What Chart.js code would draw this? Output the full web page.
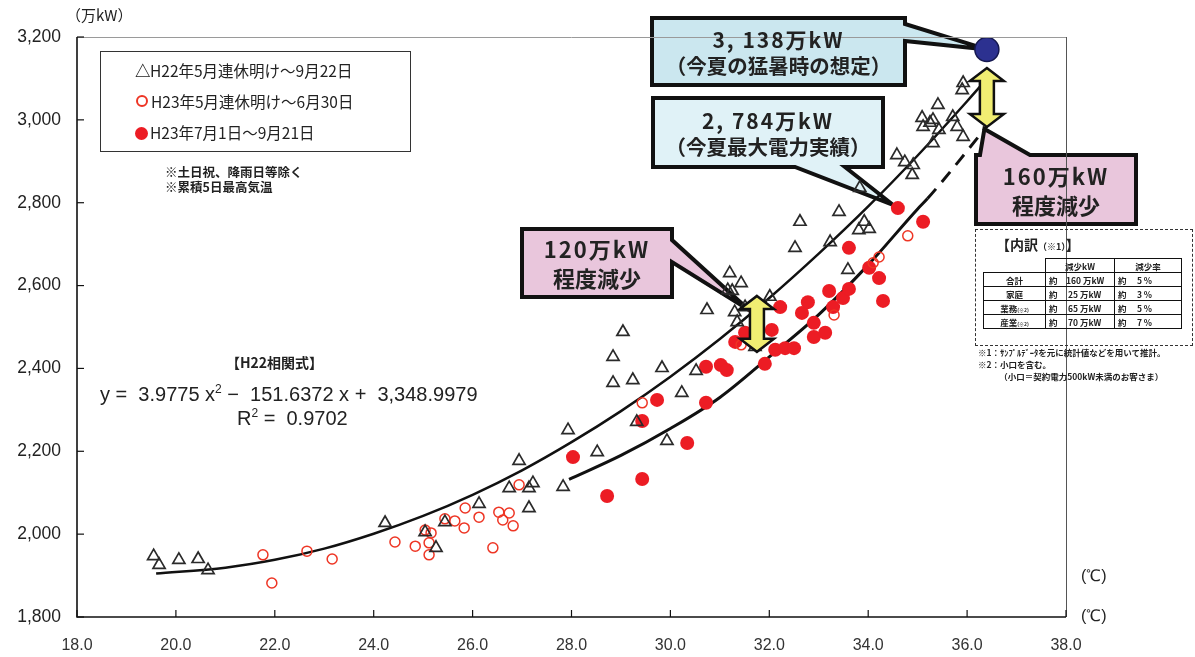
<!DOCTYPE html>
<html lang="ja">
<head>
<meta charset="utf-8">
<script src="https://cdn.jsdelivr.net/npm/chart.js@4.4.0/dist/chart.umd.min.js"></script>
<style>
  body { margin: 0; background: #fff; }
  #wrap { position: relative; width: 1195px; height: 657px; overflow: hidden; font-family: "Noto Sans CJK JP", sans-serif; color: #222; }
  #grafico { position: absolute; left: 0; top: 0; }
  .txt { position: absolute; white-space: nowrap; }
  .callout { position: absolute; display: flex; flex-direction: column; justify-content: center; align-items: center;
             font-weight: bold; color: #222; line-height: 26px; font-size: 20.5px; }
  .callout .n { letter-spacing: 2px; font-size: 21px; }
  .big { font-size: 22px; line-height: 29px; }
  #leyenda { position: absolute; left: 100px; top: 51px; width: 311px; height: 101px; box-sizing: border-box;
             border: 1.5px solid #333; font-size: 15.5px; }
  #leyenda div { position: absolute; left: 34px; white-space: nowrap; }
  .mk { display: inline-block; width: 15px; text-align: center; font-weight: bold; }
  .oc { display: inline-block; width: 8px; height: 8px; border: 2px solid #ee3524; border-radius: 50%; margin: 0 3px 1px 1px; }
  .fc { display: inline-block; width: 13px; height: 13px; background: #ec1c24; border-radius: 50%; margin: 0 2px -1px 0; }
  #uchiwake { position: absolute; left: 975px; top: 229px; width: 218px; height: 117px; box-sizing: border-box;
              border: 1.5px dashed #333; }
  #uchiwake table { position: absolute; left: 7px; top: 28px; border-collapse: collapse; font-size: 8.5px; font-weight: bold; }
  #uchiwake td { border: 1.3px solid #111; height: 13px; padding: 0 3px; }
  .eq { font-family: "Liberation Sans", Arial, sans-serif; font-size: 20px; }
</style>
</head>
<body>
<div id="wrap">
  <canvas id="grafico" width="1195" height="657"></canvas>

  <div class="txt" style="left:66px;top:4px;font-size:15px;">（万kW）</div>
  <div class="txt" style="left:1081px;top:566px;font-size:16px;font-family:'Liberation Sans',sans-serif;">(℃)</div>
  <div class="txt" style="left:1081px;top:606px;font-size:16px;font-family:'Liberation Sans',sans-serif;">(℃)</div>

  <div id="leyenda">
    <div style="top:7px;"><span class="mk" style="color:#222;">△</span>H22年5月連休明け～9月22日</div>
    <div style="top:38px;"><span class="oc"></span>H23年5月連休明け～6月30日</div>
    <div style="top:69px;"><span class="fc"></span>H23年7月1日～9月21日</div>
  </div>
  <div class="txt" style="left:165px;top:164px;font-size:12.5px;font-weight:bold;line-height:15px;">※土日祝、降雨日等除く<br>※累積5日最高気温</div>

  <div class="txt" style="left:226px;top:352px;font-size:14px;font-weight:bold;">【H22相関式】</div>
  <div class="txt eq" style="left:100px;top:382px;">y =&nbsp;&nbsp;3.9775 x<sup style="font-size:12px;">2</sup> −&nbsp;&nbsp;151.6372 x +&nbsp;&nbsp;3,348.9979</div>
  <div class="txt eq" style="left:237px;top:406px;">R<sup style="font-size:12px;">2</sup> =&nbsp;&nbsp;0.9702</div>

  <div class="callout" style="left:652px;top:18px;width:253px;height:67px;"><div class="n">3, 138万kW</div><div>（今夏の猛暑時の想定）</div></div>
  <div class="callout" style="left:653px;top:98px;width:230px;height:69px;"><div class="n">2, 784万kW</div><div>（今夏最大電力実績）</div></div>
  <div class="callout big" style="left:522px;top:229px;width:150px;height:68px;"><div class="n" style="font-size:22px;">120万kW</div><div>程度減少</div></div>
  <div class="callout big" style="left:976px;top:155px;width:160px;height:69px;"><div class="n" style="font-size:22px;">160万kW</div><div>程度減少</div></div>

  <div id="uchiwake">
    <div class="txt" style="left:20px;top:4px;font-size:14px;font-weight:bold;">【内訳<span style="font-size:9px;">（※1）</span>】</div>
    <table>
      <tr><td style="border:none;"></td><td style="width:62px;text-align:center;">減少kW</td><td style="width:60px;text-align:center;">減少率</td></tr>
      <tr><td style="width:55px;text-align:center;">合計</td><td>約　160 万kW</td><td>約　 5 %</td></tr>
      <tr><td style="text-align:center;">家庭</td><td>約　 25 万kW</td><td>約　 3 %</td></tr>
      <tr><td style="text-align:center;">業務<span style="font-size:5px;">(※2)</span></td><td>約　 65 万kW</td><td>約　 5 %</td></tr>
      <tr><td style="text-align:center;">産業<span style="font-size:5px;">(※2)</span></td><td>約　 70 万kW</td><td>約　 7 %</td></tr>
    </table>
  </div>
  <div class="txt" style="left:978px;top:346px;font-size:8.5px;font-weight:bold;line-height:12px;">※1：ｻﾝﾌﾟﾙﾃﾞｰﾀを元に統計値などを用いて推計。<br>※2：小口を含む。<br>　　　（小口＝契約電力500kW未満のお客さま）</div>
</div>

<script>
// -----------------------------
// DATOS
// -----------------------------
const xTicks = [18, 20, 22, 24, 26, 28, 30, 32, 34, 36, 38];
const yTicks = [1800, 2000, 2200, 2400, 2600, 2800, 3000, 3200];

// H22年5月連休明け～9月22日 (triángulos)
const h22Temp = [19.55, 19.66, 20.06, 20.45, 20.65, 24.23, 25.04, 25.26, 25.44, 26.13,
  26.74, 27.14, 27.22, 27.14, 26.94, 27.93, 27.83, 28.52, 29.32, 28.84,
  29.24, 28.84, 29.04, 29.83, 30.23, 29.93, 30.52, 30.74, 31.2, 31.43,
  31.16, 31.25, 31.3, 31.35, 31.51, 32.01, 31.71, 32.52, 32.62, 33.23,
  33.41, 33.59, 33.83, 33.92, 33.81, 34.02, 34.58, 34.74, 34.91, 34.89,
  35.09, 35.31, 35.11, 35.43, 35.25, 35.71, 35.41, 35.8, 35.92, 35.31,
  35.92, 35.9];
const h22Demand = [1947, 1926, 1938, 1940, 1913, 2027, 2005, 1967, 2029, 2073,
  2111, 2111, 2123, 2063, 2177, 2251, 2114, 2198, 2271, 2365,
  2372, 2428, 2488, 2401, 2341, 2225, 2394, 2541, 2630, 2606,
  2589, 2587, 2536, 2512, 2548, 2573, 2452, 2691, 2754, 2705,
  2778, 2638, 2836, 2754, 2734, 2737, 2915, 2898, 2891, 2867,
  3005, 3000, 2983, 2976, 2993, 3007, 3036, 2983, 2959, 2944,
  3089, 3072];

// H23年5月連休明け～6月30日 (círculos abiertos)
const h23MayTemp = [21.76, 21.94, 22.65, 23.16, 24.43, 24.84, 25.04, 25.16, 25.12, 25.12,
  25.44, 25.64, 25.85, 25.83, 26.13, 26.41, 26.53, 26.74, 26.61, 26.82,
  26.94, 29.43, 31.43, 33.31, 34.1, 34.22, 34.8];
const h23MayDemand = [1950, 1882, 1959, 1940, 1981, 1971, 2010, 2003, 1979, 1950,
  2037, 2032, 2063, 2015, 2041, 1967, 2053, 2051, 2034, 2020,
  2119, 2317, 2457, 2529, 2655, 2669, 2720];

// H23年7月1日～9月21日 (círculos rojos)
const h23SumTemp = [28.03, 28.72, 29.43, 29.73, 29.43, 30.34, 30.72, 30.72, 31.02, 31.14,
  31.31, 31.51, 31.69, 32.05, 32.12, 31.91, 32.22, 32.32, 32.5, 32.66,
  32.78, 32.9, 32.9, 33.13, 33.21, 33.29, 33.49, 33.61, 33.61, 34.02,
  34.22, 34.3, 34.6, 35.11];
const h23SumDemand = [2186, 2092, 2133, 2324, 2273, 2220, 2317, 2404, 2408, 2396,
  2464, 2486, 2548, 2493, 2445, 2411, 2548, 2449, 2449, 2534,
  2560, 2510, 2476, 2486, 2587, 2548, 2570, 2592, 2691, 2643,
  2618, 2563, 2787, 2754];

// curva H22 (相関式) y curva H23
const curveH22Temp = [19.6, 21, 22, 23, 24, 25, 26, 27, 28, 29, 30, 31, 32, 33, 34, 35, 36, 36.45];
const curveH22Demand = [1905, 1919, 1938, 1965, 2001, 2044, 2095, 2154, 2222, 2297, 2380, 2471, 2570, 2677, 2791, 2914, 3045, 3106];
const curveH23Temp = [27.95, 29, 30, 31, 32, 33, 34, 35, 35.2, 36, 36.4];
const curveH23Demand = [2132, 2190, 2255, 2330, 2428, 2530, 2650, 2785, 2810, 2925, 2985];

// 今夏の猛暑時の想定
const estTemp = [36.4];
const estDemand = [3170];

const toPts = (xs, ys) => xs.map((x, i) => ({ x: x, y: ys[i] }));

// -----------------------------
// DIBUJOS EXTRA (ejes, globos, flechas)
// -----------------------------
function calloutPath(ctx, b, side, a1, a2, tip) {
  ctx.beginPath();
  ctx.moveTo(b.l, b.t);
  if (side === "top") { ctx.lineTo(a1, b.t); ctx.lineTo(tip.x, tip.y); ctx.lineTo(a2, b.t); }
  ctx.lineTo(b.r, b.t);
  if (side === "right") { ctx.lineTo(b.r, a1); ctx.lineTo(tip.x, tip.y); ctx.lineTo(b.r, a2); }
  ctx.lineTo(b.r, b.b);
  if (side === "bottom") { ctx.lineTo(a2, b.b); ctx.lineTo(tip.x, tip.y); ctx.lineTo(a1, b.b); }
  ctx.lineTo(b.l, b.b);
  ctx.closePath();
}

function dobleFlecha(ctx, x, yTop, yBot) {
  const sw = 7, hw = 17, hl = 13;
  ctx.beginPath();
  ctx.moveTo(x, yTop);
  ctx.lineTo(x + hw, yTop + hl);
  ctx.lineTo(x + sw, yTop + hl);
  ctx.lineTo(x + sw, yBot - hl);
  ctx.lineTo(x + hw, yBot - hl);
  ctx.lineTo(x, yBot);
  ctx.lineTo(x - hw, yBot - hl);
  ctx.lineTo(x - sw, yBot - hl);
  ctx.lineTo(x - sw, yTop + hl);
  ctx.lineTo(x - hw, yTop + hl);
  ctx.closePath();
  ctx.fillStyle = "#f1ee72";
  ctx.fill();
  ctx.lineWidth = 2.5;
  ctx.strokeStyle = "#111";
  ctx.lineJoin = "miter";
  ctx.stroke();
}

const extras = {
  id: "extras",
  beforeDatasetsDraw(chart) {
    const ctx = chart.ctx, xs = chart.scales.x, ys = chart.scales.y;
    const P = (x, y) => ({ x: xs.getPixelForValue(x), y: ys.getPixelForValue(y) });
    ctx.save();
    // globos
    const globos = [
      { b: { l: 652, t: 18, r: 905, b: 85 }, side: "right", a1: 24, a2: 41, tip: P(36.4, 3170), c: "#cbe7ef" },
      { b: { l: 653, t: 98, r: 883, b: 167 }, side: "bottom", a1: 795, a2: 845, tip: P(34.5, 2795), c: "#e0f2f7" },
      { b: { l: 522, t: 229, r: 672, b: 297 }, side: "right", a1: 240, a2: 262, tip: P(31.6, 2540), c: "#e9c6dc" },
      { b: { l: 976, t: 155, r: 1136, b: 224 }, side: "top", a1: 980, a2: 1030, tip: P(36.35, 2978), c: "#e9c6dc" }
    ];
    globos.forEach(g => {
      calloutPath(ctx, g.b, g.side, g.a1, g.a2, g.tip);
      ctx.fillStyle = g.c;
      ctx.fill();
      ctx.lineWidth = 4;
      ctx.lineJoin = "miter";
      ctx.strokeStyle = "#111";
      ctx.stroke();
    });
    ctx.restore();
  },
  afterDatasetsDraw(chart) {
    const ctx = chart.ctx, xs = chart.scales.x, ys = chart.scales.y;
    const a = chart.chartArea;
    ctx.save();
    // flechas amarillas
    dobleFlecha(ctx, xs.getPixelForValue(36.4), ys.getPixelForValue(3125), ys.getPixelForValue(2983));
    dobleFlecha(ctx, xs.getPixelForValue(31.75), ys.getPixelForValue(2575), ys.getPixelForValue(2440));
    // marco
    ctx.lineWidth = 1;
    ctx.strokeStyle = "#9a9a9a";
    ctx.beginPath(); ctx.moveTo(a.left, a.top + 0.5); ctx.lineTo(a.right, a.top + 0.5); ctx.stroke();
    ctx.strokeStyle = "#555";
    ctx.beginPath(); ctx.moveTo(a.right + 0.5, a.top); ctx.lineTo(a.right + 0.5, a.bottom); ctx.stroke();
    ctx.lineWidth = 1.6;
    ctx.strokeStyle = "#111";
    ctx.beginPath();
    ctx.moveTo(a.left, a.top); ctx.lineTo(a.left, a.bottom); ctx.lineTo(a.right, a.bottom);
    ctx.stroke();
    // marcas hacia dentro
    ctx.lineWidth = 1.2;
    yTicks.forEach(v => {
      const y = ys.getPixelForValue(v);
      ctx.beginPath(); ctx.moveTo(a.left, y); ctx.lineTo(a.left + 7, y); ctx.stroke();
    });
    xTicks.forEach(v => {
      const x = xs.getPixelForValue(v);
      ctx.beginPath(); ctx.moveTo(x, a.bottom); ctx.lineTo(x, a.bottom - 7); ctx.stroke();
    });
    ctx.restore();
  }
};

// -----------------------------
// GRÁFICO
// -----------------------------
new Chart(document.getElementById("grafico"), {
  type: "scatter",
  data: {
    datasets: [
      {
        label: "今夏の猛暑時の想定",
        data: toPts(estTemp, estDemand),
        pointRadius: 12, pointHoverRadius: 12,
        backgroundColor: "#2c3190", borderColor: "#15184f", borderWidth: 1.5
      },
      {
        label: "H22年5月連休明け～9月22日",
        data: toPts(h22Temp, h22Demand),
        pointStyle: "triangle", pointRadius: 7,
        backgroundColor: "rgba(255,255,255,0)", borderColor: "#2a2a2a", borderWidth: 1.7
      },
      {
        label: "H23年5月連休明け～6月30日",
        data: toPts(h23MayTemp, h23MayDemand),
        pointRadius: 5,
        backgroundColor: "rgba(255,255,255,0)", borderColor: "#ee3524", borderWidth: 1.5
      },
      {
        label: "H23年7月1日～9月21日",
        data: toPts(h23SumTemp, h23SumDemand),
        pointRadius: 7,
        backgroundColor: "#ec1c24", borderColor: "#ec1c24", borderWidth: 0
      },
      {
        label: "H22相関式",
        data: toPts(curveH22Temp, curveH22Demand),
        showLine: true, pointRadius: 0, borderColor: "#111", borderWidth: 2.5,
        cubicInterpolationMode: "monotone"
      },
      {
        label: "H23",
        data: toPts(curveH23Temp, curveH23Demand),
        showLine: true, pointRadius: 0, borderColor: "#111", borderWidth: 3,
        cubicInterpolationMode: "monotone",
        segment: { borderDash: c => (c.p0.parsed.x >= 35.2 ? [13, 9] : undefined) }
      }
    ]
  },
  options: {
    responsive: false,
    animation: false,
    devicePixelRatio: 1,
    layout: { padding: { top: 37, right: 129, left: 0, bottom: 0 } },
    plugins: { legend: { display: false }, tooltip: { enabled: false } },
    scales: {
      x: {
        type: "linear", min: 18, max: 38,
        afterFit: s => { s.height = 40; },
        afterBuildTicks: s => { s.ticks = xTicks.map(v => ({ value: v })); },
        grid: { display: false },
        border: { display: false },
        ticks: {
          padding: 11, color: "#333",
          font: { family: "'Liberation Sans Narrow', 'Arial Narrow', 'Liberation Sans', sans-serif", size: 16 },
          callback: v => Number(v).toFixed(1)
        }
      },
      y: {
        min: 1800, max: 3200,
        afterFit: s => { s.width = 77; },
        afterBuildTicks: s => { s.ticks = yTicks.map(v => ({ value: v })); },
        grid: { display: false },
        border: { display: false },
        ticks: {
          padding: 8, color: "#222",
          font: { family: "'Liberation Sans', Arial, sans-serif", size: 17.5 },
          callback: v => Number(v).toLocaleString("en-US")
        }
      }
    }
  },
  plugins: [extras]
});
</script>
</body>
</html>
